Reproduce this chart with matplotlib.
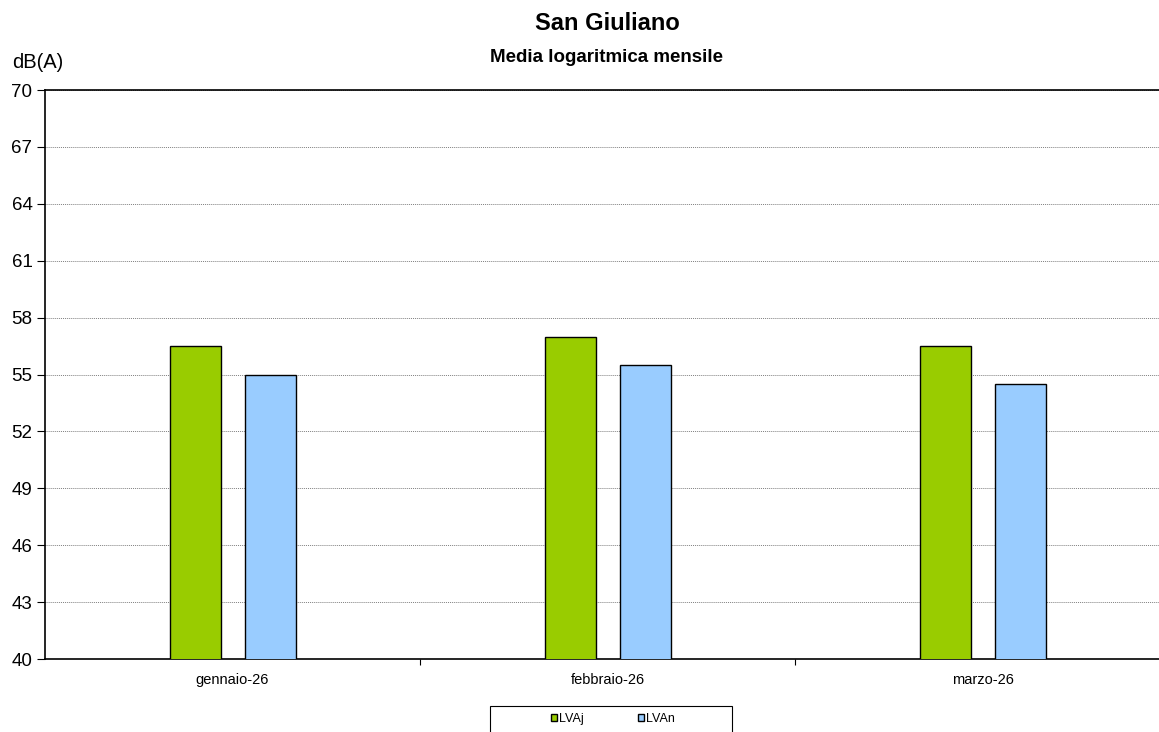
import numpy as np
import matplotlib
matplotlib.use('Agg')
import matplotlib.pyplot as plt
from matplotlib.patches import Rectangle

plt.rcParams['font.family'] = ['Liberation Sans', 'DejaVu Sans']

# data
months = ['gennaio-26', 'febbraio-26', 'marzo-26']
lvaj = [56.5, 57.0, 56.5]
lvan = [55.0, 55.5, 54.5]
y_ticks = np.arange(40, 71, 3)

W, H = 1159, 732
fig = plt.figure(figsize=(W / 100, H / 100), dpi=100)
ax = fig.add_axes([45 / W, (H - 659) / H, (1170 - 45) / W, 569 / H])

x = np.arange(len(months))
bw = 0.136
ax.bar(x - 0.1, lvaj, bw, bottom=0, color='#99cc00', edgecolor='black',
       linewidth=1.0, label='LVAj', zorder=3)
ax.bar(x + 0.1, lvan, bw, bottom=0, color='#99ccff', edgecolor='black',
       linewidth=1.0, label='LVAn', zorder=3)

ax.set_ylim(40, 70)
ax.set_xlim(-0.5, 2.5)
ax.set_yticks(y_ticks)
ax.tick_params(axis='y', direction='out', length=6, width=0.8, labelsize=13.5, pad=3)
ax.set_xticks(x)
ax.set_xticklabels(months, fontsize=10.5)
ax.tick_params(axis='x', which='major', length=0, pad=10)
ax.set_xticks([0.5, 1.5], minor=True)
ax.tick_params(axis='x', which='minor', direction='out', length=4, width=0.8)
ax.grid(axis='y', color='#808080', linestyle=(0, (1, 1)), linewidth=0.7, zorder=0)
for s in ['left', 'bottom', 'top']:
    ax.spines[s].set_linewidth(1.2)
ax.spines['right'].set_visible(False)

fig.text(607 / W, 1 - 23 / H, 'San Giuliano', ha='center', va='center',
         fontsize=17, fontweight='bold')
fig.text(606 / W, 1 - 58 / H, 'Media logaritmica mensile', ha='center', va='center',
         fontsize=13.5, fontweight='bold')
fig.text(12 / W, 1 - 63 / H, 'dB(A)', ha='left', va='center', fontsize=14.5)

# legend box
fig.patches.append(Rectangle((490 / W, -0.02), 242 / W, (H - 706) / H + 0.02,
                             transform=fig.transFigure, fill=False,
                             edgecolor='black', linewidth=0.8))
fig.legend(loc='center', bbox_to_anchor=(613 / W, 1 - 719 / H), ncol=2,
           frameon=False, fontsize=9, handlelength=0.5, handleheight=0.5,
           handletextpad=0.15, columnspacing=4.3)

fig.savefig('out.png', dpi=100)
